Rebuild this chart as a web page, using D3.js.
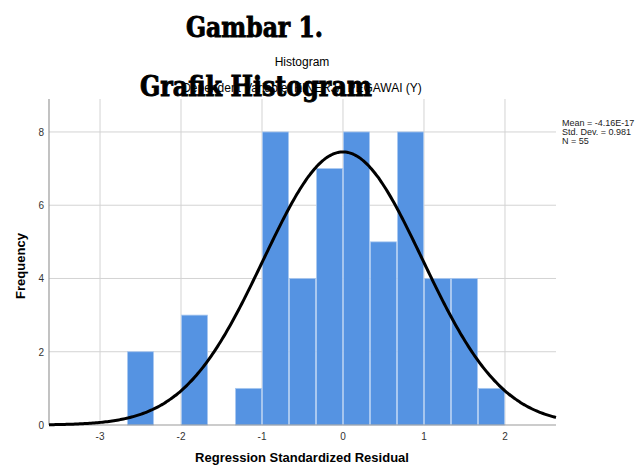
<!DOCTYPE html>
<html>
<head>
<meta charset="utf-8">
<script src="https://cdn.jsdelivr.net/npm/d3@7"></script>
<style>
  body { margin: 0; background: #fff; }
  svg { display: block; }
</style>
</head>
<body>
<div class="view1"></div>
<script>
// Histogram bins (left edge of each bin) and counts
const binStarts = [-2.667, -2.333, -2.0, -1.667, -1.333, -1.0, -0.667, -0.333, 0.0, 0.333, 0.667, 1.0, 1.333, 1.667];
const binCounts = [2, 0, 3, 0, 1, 8, 4, 7, 8, 5, 8, 4, 4, 1];
const binWidth = 0.3333;

const xTicks = [-3, -2, -1, 0, 1, 2];
const yTicks = [0, 2, 4, 6, 8];

// statistics shown in the legend
const statMean = -4.16e-17;
const statSd = 0.981;
const statN = 55;
const statLabels = ["Mean = -4.16E-17", "Std. Dev. = 0.981", "N = 55"];

const W = 642, H = 468;
const plot = {left: 49, right: 556, top: 99, bottom: 425};

let svg = d3.select(".view1").append("svg")
    .attr("width", W)
    .attr("height", H);

let x = d3.scaleLinear().domain([-3.63, 2.63]).range([plot.left, plot.right]);
let y = d3.scaleLinear().domain([0, 8.9]).range([plot.bottom, plot.top]);

// grid lines
let grid = svg.append("g");
grid.selectAll("line.vg")
    .data(xTicks)
    .enter().append("line")
    .attr("x1", d => x(d)).attr("x2", d => x(d))
    .attr("y1", plot.top).attr("y2", plot.bottom)
    .attr("stroke", "#d3d3d3").attr("stroke-width", 1);
grid.selectAll("line.hg")
    .data(yTicks.filter(d => d > 0))
    .enter().append("line")
    .attr("x1", plot.left).attr("x2", plot.right)
    .attr("y1", d => y(d)).attr("y2", d => y(d))
    .attr("stroke", "#d3d3d3").attr("stroke-width", 1);

// bars
svg.append("g").selectAll("rect")
    .data(binStarts.map((s, i) => ({s: s, c: binCounts[i]})).filter(d => d.c > 0))
    .enter().append("rect")
    .attr("x", d => x(d.s) + 0.5)
    .attr("width", d => x(d.s + binWidth) - x(d.s) - 1)
    .attr("y", d => y(d.c))
    .attr("height", d => y(0) - y(d.c))
    .attr("fill", "#5593e2")
    .attr("stroke", "#a9c8f0")
    .attr("stroke-width", 0.8);

// axes lines
svg.append("line")
    .attr("x1", plot.left).attr("x2", plot.left)
    .attr("y1", plot.top).attr("y2", plot.bottom)
    .attr("stroke", "#9a9a9a").attr("stroke-width", 1.2);
svg.append("line")
    .attr("x1", plot.left).attr("x2", plot.right)
    .attr("y1", plot.bottom).attr("y2", plot.bottom)
    .attr("stroke", "#9a9a9a").attr("stroke-width", 1.2);

// normal curve from mean / sd / N
let curvePts = d3.range(-3.63, 2.6301, 0.02).map(v => {
    let z = (v - statMean) / statSd;
    return [v, statN * binWidth * Math.exp(-z * z / 2) / (Math.sqrt(2 * Math.PI) * statSd)];
});
svg.append("path")
    .datum(curvePts)
    .attr("d", d3.line().x(d => x(d[0])).y(d => y(d[1])).curve(d3.curveBasis))
    .attr("fill", "none")
    .attr("stroke", "#000")
    .attr("stroke-width", 3);

// tick labels
svg.append("g").selectAll("text")
    .data(yTicks)
    .enter().append("text")
    .attr("x", 44).attr("y", d => y(d) + 4)
    .attr("text-anchor", "end")
    .attr("font-family", "Liberation Sans, Arial, sans-serif")
    .attr("font-size", 10).attr("fill", "#333")
    .text(d => d);
svg.append("g").selectAll("text")
    .data(xTicks)
    .enter().append("text")
    .attr("x", d => x(d)).attr("y", 440)
    .attr("text-anchor", "middle")
    .attr("font-family", "Liberation Sans, Arial, sans-serif")
    .attr("font-size", 10).attr("fill", "#333")
    .text(d => d);

// axis titles
svg.append("text")
    .attr("x", 302).attr("y", 462)
    .attr("text-anchor", "middle")
    .attr("font-family", "Liberation Sans, Arial, sans-serif")
    .attr("font-size", 13).attr("font-weight", "bold")
    .text("Regression Standardized Residual");
svg.append("text")
    .attr("transform", "translate(25,266) rotate(-90)")
    .attr("text-anchor", "middle")
    .attr("font-family", "Liberation Sans, Arial, sans-serif")
    .attr("font-size", 13).attr("font-weight", "bold")
    .text("Frequency");

// stats legend
svg.append("g").selectAll("text")
    .data(statLabels)
    .enter().append("text")
    .attr("x", 562).attr("y", (d, i) => 126 + i * 9)
    .attr("font-family", "Liberation Sans, Arial, sans-serif")
    .attr("font-size", 9).attr("fill", "#222")
    .text(d => d);

// chart titles
svg.append("text")
    .attr("x", 302).attr("y", 66)
    .attr("text-anchor", "middle")
    .attr("font-family", "Liberation Sans, Arial, sans-serif")
    .attr("font-size", 12)
    .text("Histogram");
svg.append("text")
    .attr("x", 302).attr("y", 92)
    .attr("text-anchor", "middle")
    .attr("font-family", "Liberation Sans, Arial, sans-serif")
    .attr("font-size", 12)
    .text("Dependent Variable: KINERJA PEGAWAI (Y)");

// document captions drawn over the chart
svg.append("text")
    .attr("x", 186).attr("y", 37)
    .attr("textLength", 137).attr("lengthAdjust", "spacingAndGlyphs")
    .attr("font-family", "DejaVu Serif, serif")
    .attr("font-size", 27).attr("font-weight", "bold")
    .attr("stroke", "#000").attr("stroke-width", 0.9)
    .text("Gambar 1.");
svg.append("text")
    .attr("x", 140).attr("y", 96)
    .attr("textLength", 232).attr("lengthAdjust", "spacingAndGlyphs")
    .attr("font-family", "DejaVu Serif, serif")
    .attr("font-size", 27).attr("font-weight", "bold")
    .attr("stroke", "#000").attr("stroke-width", 0.9)
    .text("Grafik Histogram");
</script>
</body>
</html>
